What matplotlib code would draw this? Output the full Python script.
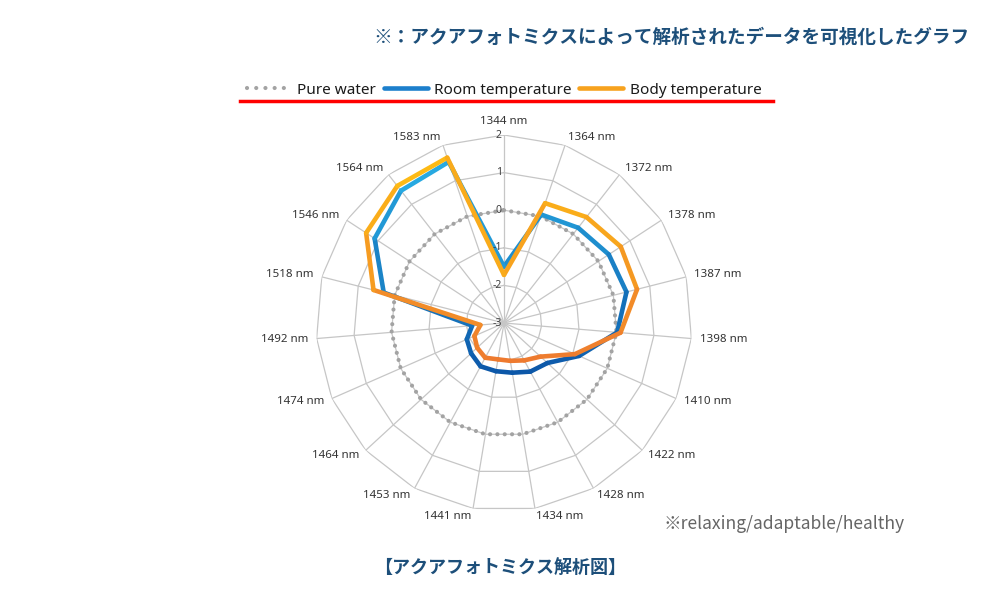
import numpy as np
import matplotlib.pyplot as plt
from matplotlib.collections import LineCollection
from matplotlib.colors import to_rgb
from matplotlib.lines import Line2D

plt.rcParams['font.family'] = ['Noto Sans', 'Noto Sans CJK JP', 'DejaVu Sans']

wavelengths = ["1344 nm", "1364 nm", "1372 nm", "1378 nm", "1387 nm", "1398 nm",
               "1410 nm", "1422 nm", "1428 nm", "1434 nm", "1441 nm", "1453 nm",
               "1464 nm", "1474 nm", "1492 nm", "1518 nm", "1546 nm", "1564 nm",
               "1583 nm"]
pure_water = [0] * 19
room_temp = [-1.50, 0.05, 0.21, 0.33, 0.36, 0.02, -0.82, -1.43, -1.53, -1.66,
             -1.70, -1.69, -1.81, -1.92, -2.15, 0.30, 1.11, 1.46, 1.53]
body_temp = [-1.72, 0.37, 0.57, 0.71, 0.65, 0.11, -0.94, -1.68, -1.87, -1.98,
             -2.02, -1.95, -2.03, -2.14, -2.37, 0.58, 1.38, 1.62, 1.65]
r_ticks = [-3, -2, -1, 0, 1, 2]

title_text = "※：アクアフォトミクスによって解析されたデータを可視化したグラフ"
caption_text = "【アクアフォトミクス解析図】"
note_text = "※relaxing/adaptable/healthy"

n = len(wavelengths)
angles = np.linspace(0, 2 * np.pi, n, endpoint=False)
th_closed = np.append(angles, angles[0])

fig = plt.figure(figsize=(10, 6), dpi=100)
ax = fig.add_axes([0.316, 0.1483, 0.376, 0.6267], polar=True)
ax.set_theta_zero_location('N')
ax.set_theta_direction(-1)
ax.set_xticks([])
ax.set_yticks([])
ax.grid(False)
ax.spines['polar'].set_visible(False)

grid_col = '#c6c6c6'
# polygon rings
for v in r_ticks[1:]:
    ax.plot(th_closed, [v] * (n + 1), color=grid_col, lw=0.9, zorder=1)
# spokes
for a in angles:
    ax.plot([a, a], [r_ticks[0], r_ticks[-1]], color=grid_col, lw=0.9, zorder=1)

# pure water as round dots
ax.plot(th_closed, np.append(pure_water, pure_water[0]), color='#a3a3a3', lw=3.0,
        linestyle=(0, (0.01, 1.75)), dash_capstyle='round', zorder=2)


def gradient_line(values, c_top, c_bottom, z):
    r = np.append(values, values[0])
    h = (r - r_ticks[0]) * np.cos(th_closed)
    mid = (h[:-1] + h[1:]) / 2
    t = (mid.max() - mid) / (mid.max() - mid.min())
    top, bot = np.array(to_rgb(c_top)), np.array(to_rgb(c_bottom))
    cols = [tuple((1 - k) * top + k * bot) for k in t]
    segs = [[(th_closed[i], r[i]), (th_closed[i + 1], r[i + 1])] for i in range(n)]
    lc = LineCollection(segs, colors=cols, linewidths=3.3, capstyle='round',
                        joinstyle='round', zorder=z)
    ax.add_collection(lc, autolim=False)


gradient_line(room_temp, '#27a9e1', '#0c57a8', 3)
gradient_line(body_temp, '#fdba15', '#ee7a2f', 4)

ax.set_ylim(r_ticks[0], r_ticks[-1])

# radial tick labels
for v in r_ticks:
    ax.annotate(str(v), xy=(0, v), xytext=(-1.5, 0), textcoords='offset points',
                ha='right', va='center', fontsize=7.5, color='#404040', zorder=5)

# category labels
for a, lab in zip(angles, wavelengths):
    s, c = np.sin(a), np.cos(a)
    ha = 'left' if s > 0.05 else ('right' if s < -0.05 else 'center')
    va = 'bottom' if abs(s) < 0.05 else 'center'
    ax.annotate(lab, xy=(a, r_ticks[-1]), xytext=(6 * s, 6 * c),
                textcoords='offset points', ha=ha, va=va, fontsize=8.3,
                color='#333333', annotation_clip=False)

# legend
handles = [
    Line2D([], [], color='#a3a3a3', lw=3.0, linestyle=(0, (0.01, 2.2)),
           dash_capstyle='round'),
    Line2D([], [], color='#1c7fcc', lw=3.3, solid_capstyle='round'),
    Line2D([], [], color='#f7a21e', lw=3.3, solid_capstyle='round'),
]
fig.legend(handles, ["Pure water", "Room temperature", "Body temperature"],
           loc='center', bbox_to_anchor=(0.504, 0.85), ncol=3, frameon=False,
           fontsize=11, handlelength=2.9, handletextpad=0.4, columnspacing=0.5,
           labelcolor='#1a1a1a')
fig.add_artist(Line2D([0.240, 0.773], [0.832, 0.832], color='#ff0000', lw=2.5))

fig.text(0.970, 0.938, title_text, ha='right', va='center', fontsize=13.4,
         fontweight='bold', color='#1d4f7a', family=['Noto Sans CJK JP', 'DejaVu Sans'])
fig.text(0.500, 0.053, caption_text, ha='center', va='center', fontsize=13,
         fontweight='bold', color='#1d4f7a', family=['Noto Sans CJK JP', 'DejaVu Sans'])
fig.text(0.663, 0.126, note_text, ha='left', va='center', fontsize=12.6,
         color='#666666', family=['Noto Sans CJK JP', 'DejaVu Sans'])

fig.savefig('out.png', dpi=100, facecolor='white')
